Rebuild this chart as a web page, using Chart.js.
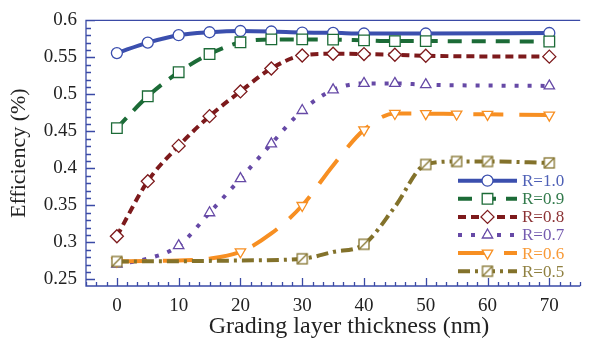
<!DOCTYPE html>
<html>
<head>
<meta charset="utf-8">
<script src="https://cdn.jsdelivr.net/npm/chart.js@4.4.0/dist/chart.umd.min.js"></script>
<style>
  html, body { margin: 0; padding: 0; background: #fff; }
  #wrap { width: 589px; height: 346px; }
</style>
</head>
<body>
<div id="wrap"><canvas id="chart"></canvas></div>
<script>
// Eficiencia frente al espesor de la capa de gradación, una curva por cada R

// Etiquetas y ticks
const seriesLabels = ['R=1.0', 'R=0.9', 'R=0.8', 'R=0.7', 'R=0.6', 'R=0.5'];
const xTicks = [0, 10, 20, 30, 40, 50, 60, 70];
const yTicks = [0.25, 0.3, 0.35, 0.4, 0.45, 0.5, 0.55, 0.6];
const xTitle = 'Grading layer thickness (nm)';
const yTitle = 'Efficiency (%)';

// Valores (x en nm, y en eficiencia)
const xR10 = [0, 5, 10, 15, 20, 25, 30, 35, 40, 50, 70];
const yR10 = [0.5558, 0.570, 0.580, 0.584, 0.5857, 0.585, 0.5836, 0.5832, 0.5823, 0.5823, 0.583];

const xR09 = [0, 5, 10, 15, 20, 25, 30, 35, 40, 45, 50, 70];
const yR09 = [0.4544, 0.4974, 0.530, 0.5545, 0.5704, 0.5743, 0.5743, 0.574, 0.573, 0.572, 0.572, 0.5715];

const xR08 = [0, 5, 10, 15, 20, 25, 30, 35, 40, 45, 50, 70];
const yR08 = [0.3083, 0.3827, 0.4304, 0.4706, 0.504, 0.535, 0.5526, 0.5549, 0.5545, 0.5536, 0.5522, 0.551];

const xR07 = [0, 5, 10, 15, 20, 25, 30, 35, 40, 45, 50, 70];
const yR07 = [0.2705, 0.278, 0.2955, 0.340, 0.3862, 0.4332, 0.4782, 0.5061, 0.5148, 0.5148, 0.5131, 0.5114];

const xR06 = [0, 5, 10, 15, 20, 25, 30, 35, 40, 45, 50, 55, 60, 70];
const yR06 = [0.2745, 0.2748, 0.2755, 0.278, 0.2872, 0.312, 0.3498, 0.404, 0.452, 0.4742, 0.474, 0.4734, 0.473, 0.472];

const xR05 = [0, 10, 20, 30, 35, 40, 45, 50, 55, 60, 70];
const yR05 = [0.2742, 0.2745, 0.2755, 0.2778, 0.287, 0.2974, 0.348, 0.4053, 0.4093, 0.4093, 0.4074];

// Puntos que llevan marcador en cada serie
const marksR07 = [0, 10, 15, 20, 25, 30, 35, 40, 45, 50, 70];
const marksR06 = [0, 20, 30, 40, 45, 50, 55, 60, 70];
const marksR05 = [0, 30, 40, 50, 55, 60, 70];

const axisColor = '#3a4aa6';
const serif = 'Liberation Serif';

// Cuadrado con diagonal para R=0.5
function squareSlash(color) {
    const c = document.createElement('canvas');
    c.width = 14; c.height = 14;
    const g = c.getContext('2d');
    g.fillStyle = '#fff';
    g.fillRect(2, 2, 10, 10);
    g.strokeStyle = color;
    g.lineWidth = 1.3;
    g.strokeRect(2, 2, 10, 10);
    g.beginPath();
    g.moveTo(2, 12);
    g.lineTo(12, 2);
    g.stroke();
    return c;
}

function makeSet(label, xs, ys, color, dash, style, radius, marks, order) {
    return {
        label: label,
        data: xs.map((x, i) => ({ x: x, y: ys[i] })),
        borderColor: color,
        borderWidth: 4,
        borderDash: dash,
        borderCapStyle: 'butt',
        cubicInterpolationMode: 'monotone',
        pointStyle: style,
        pointRadius: ctx => (!marks || marks.includes(ctx.parsed.x)) ? radius : 0,
        pointBackgroundColor: '#fff',
        pointBorderColor: color,
        pointBorderWidth: 1.3,
        fill: false,
        order: order,
        markSize: radius
    };
}

const datasets = [
    makeSet(seriesLabels[0], xR10, yR10, '#3b4fae', [], 'circle', 5.5, null, 5),
    makeSet(seriesLabels[1], xR09, yR09, '#1c6b37', [14, 10], 'rect', 7.5, null, 4),
    makeSet(seriesLabels[2], xR08, yR08, '#7d1a1c', [8, 5], 'rectRot', 6.5, null, 3),
    makeSet(seriesLabels[3], xR07, yR07, '#6649a6', [4, 9], 'triangle', 6, marksR07, 2),
    makeSet(seriesLabels[4], xR06, yR06, '#f78f22', [30, 16], 'triangle', 6, marksR06, 1),
    makeSet(seriesLabels[5], xR05, yR05, '#83722b', [12, 5, 3, 5], squareSlash('#83722b'), 7, marksR05, 0)
];
datasets[4].pointRotation = 180;

// Marco de ejes con ticks hacia dentro, y titulo del eje x
const axisFrame = {
    id: 'axisFrame',
    afterDatasetsDraw(chart) {
        const { ctx, chartArea: a, scales } = chart;
        const sx = scales.x, sy = scales.y;
        ctx.save();
        ctx.strokeStyle = axisColor;
        ctx.lineWidth = 1.3;
        ctx.beginPath();
        ctx.moveTo(a.right, a.top);
        ctx.lineTo(a.left, a.top);
        ctx.lineTo(a.left, a.bottom);
        ctx.lineTo(a.right, a.bottom);
        const xStep = 10 / 6;
        for (let i = 0; ; i++) {
            const v = sx.min + i * xStep;
            if (v > sx.max + 1e-6) break;
            const major = Math.abs(v / 10 - Math.round(v / 10)) < 1e-6;
            const px = Math.round(sx.getPixelForValue(v)) + 0.5;
            ctx.moveTo(px, a.bottom);
            ctx.lineTo(px, a.bottom - (major ? 8 : 4));
        }
        for (let i = 25; i <= 60; i++) {
            const v = i / 100;
            const major = i % 5 === 0;
            const py = Math.round(sy.getPixelForValue(v)) + 0.5;
            ctx.moveTo(a.left, py);
            ctx.lineTo(a.left + (major ? 9 : 5), py);
        }
        ctx.stroke();

        // titulo x: en el original va algo a la derecha del centro
        ctx.fillStyle = '#222';
        ctx.font = '24px "' + serif + '"';
        ctx.textAlign = 'center';
        ctx.textBaseline = 'alphabetic';
        ctx.fillText(xTitle, 349, 333);
        ctx.restore();
    }
};

// Leyenda dibujada a mano: linea + marcador + texto
const sketchLegend = {
    id: 'sketchLegend',
    afterDraw(chart) {
        const ctx = chart.ctx;
        const x0 = 458, x1 = 517, tx = 522;
        chart.data.datasets.forEach((ds, i) => {
            const y = 180.7 + i * 18.1;
            ctx.save();
            ctx.strokeStyle = ds.borderColor;
            ctx.lineWidth = 4;
            ctx.setLineDash(ds.borderDash);
            ctx.beginPath();
            ctx.moveTo(x0, y);
            ctx.lineTo(x1, y);
            ctx.stroke();
            ctx.setLineDash([]);
            ctx.fillStyle = '#fff';
            ctx.strokeStyle = ds.borderColor;
            ctx.lineWidth = 1.3;
            Chart.helpers.drawPoint(ctx, {
                pointStyle: ds.pointStyle,
                radius: ds.markSize,
                rotation: ds.pointRotation || 0,
                borderWidth: 1.3
            }, (x0 + x1) / 2, y);
            ctx.globalAlpha = 0.9;
            ctx.fillStyle = ds.borderColor;
            ctx.font = '17px "' + serif + '"';
            ctx.textBaseline = 'middle';
            ctx.textAlign = 'left';
            ctx.fillText(ds.label, tx, y + 1);
            ctx.restore();
        });
    }
};

const ctx = document.getElementById('chart').getContext('2d');
new Chart(ctx, {
    type: 'line',
    data: { datasets: datasets },
    options: {
        responsive: true,
        maintainAspectRatio: false,
        animation: false,
        events: [],
        layout: { padding: { top: 15, right: 0, left: 0, bottom: 0 } },
        plugins: { legend: { display: false }, tooltip: { enabled: false } },
        scales: {
            x: {
                type: 'linear',
                min: -5,
                max: 75,
                afterBuildTicks: s => { s.ticks = xTicks.map(v => ({ value: v })); },
                afterFit: s => { s.height = 60; },
                grid: { display: false, drawTicks: false },
                border: { display: false },
                ticks: { autoSkip: false, maxRotation: 0, padding: 9, color: '#222', font: { family: serif, size: 19 } }
            },
            y: {
                type: 'linear',
                min: 0.241,
                max: 0.6,
                afterBuildTicks: s => { s.ticks = yTicks.map(v => ({ value: v })); },
                afterFit: s => { s.width = 86; },
                grid: { display: false, drawTicks: false },
                border: { display: false },
                ticks: { autoSkip: false, padding: 9, color: '#222', font: { family: serif, size: 19 }, callback: v => String(+v.toFixed(2)) },
                title: { display: true, text: yTitle, color: '#222', padding: { top: 6, bottom: 0 }, font: { family: serif, size: 22 } }
            }
        }
    },
    plugins: [axisFrame, sketchLegend]
});
</script>
</body>
</html>
